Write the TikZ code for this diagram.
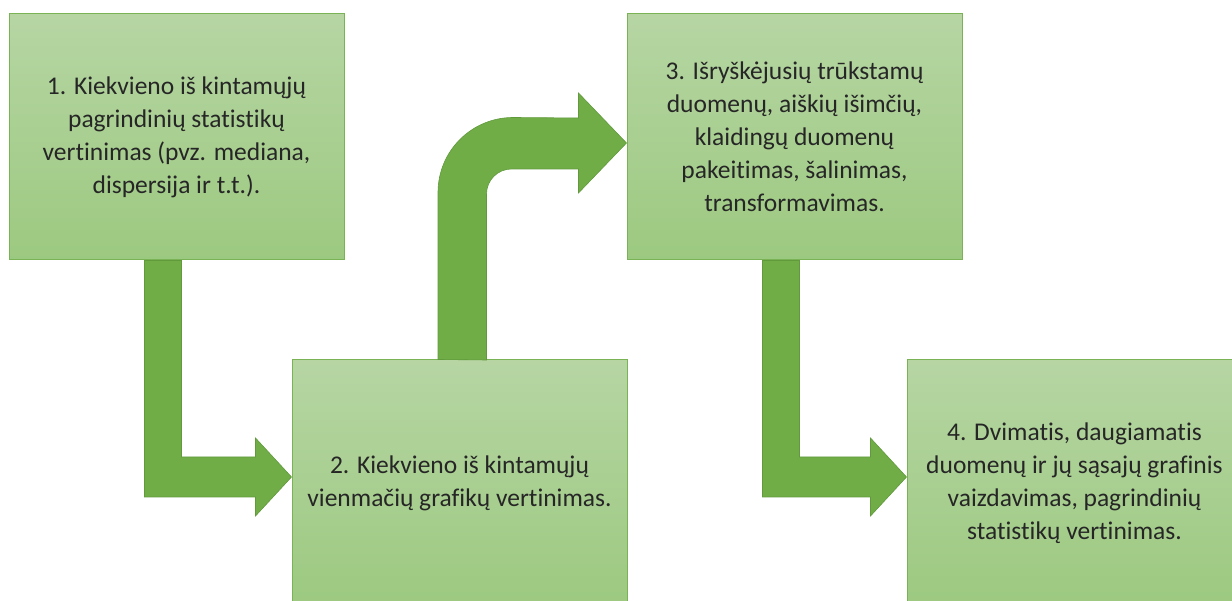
\documentclass[tikz,border=0pt]{standalone}
\usepackage{fontspec}
\setmainfont{Carlito}[Ligatures=NoCommon]
\usepackage{tikz}
\usetikzlibrary{calc}
\definecolor{boxtop}{HTML}{B6D5A3}
\definecolor{boxbot}{HTML}{9CC980}
\definecolor{boxline}{HTML}{7AB356}
\definecolor{arrfill}{HTML}{70AD47}
\definecolor{arrline}{HTML}{609A3B}
\newcommand{\elbowarrow}[2]{%
  \coordinate (s) at ($(#1.south)+(-32,0)$);
  \coordinate (t) at ($(#2.west)+(0,6)$);
  \filldraw[arr] (s) -- ++(37,0) |- ($(t)+(-36,20)$) -- ++(0,19) -- (t)
    -- ++(-36,-39) -- ++(0,19) -| (s) -- cycle;}

\begin{document}
\begin{tikzpicture}[x=1pt,y=1pt,
  step box/.style={rectangle,draw=boxline,line width=1pt,top color=boxtop,
               bottom color=boxbot,minimum width=335pt,minimum height=246pt,
               inner sep=0pt,align=center,text=black!85,
               font=\fontsize{25.5}{33}\selectfont},
  arr/.style={fill=arrfill,draw=arrline,line width=0.6pt}]
\useasboundingbox (0,0) rectangle (1232,601);

\node[step box] (b1) at (176.5,464) {1. Kiekvieno iš kintamųjų\\ pagrindinių statistikų\\
  vertinimas (pvz. mediana,\\ dispersija ir t.t.).};
\node[step box] (b2) at (459.5,118) {2. Kiekvieno iš kintamųjų\\ vienmačių grafikų vertinimas.};
\node[step box] (b3) at (794.5,464) {3. Išryškėjusių trūkstamų\\ duomenų, aiškių išimčių,\\
  klaidingų duomenų\\ pakeitimas, šalinimas,\\ transformavimas.};
\node[step box] (b4) at (1074.5,118) {4. Dvimatis, daugiamatis\\ duomenų ir jų sąsajų grafinis\\
  vaizdavimas, pagrindinių\\ statistikų vertinimas.};

% elbow arrows
\elbowarrow{b1}{b2}
\elbowarrow{b3}{b4}

% bent arrow up and right
\coordinate (t2) at ($(b3.west)+(0,-6)$);
\filldraw[arr] ($(b2.north)+(-21.5,0)$) -- ++(0,167)
  arc[start angle=180,end angle=90,radius=75] -- ($(t2)+(-48,25)$) -- ++(0,25)
  -- (t2) -- ++(-48,-50) -- ++(0,24) -- ++(-67,0)
  arc[start angle=90,end angle=180,radius=25] -- ++(0,-166) -- cycle;
\end{tikzpicture}
\end{document}
